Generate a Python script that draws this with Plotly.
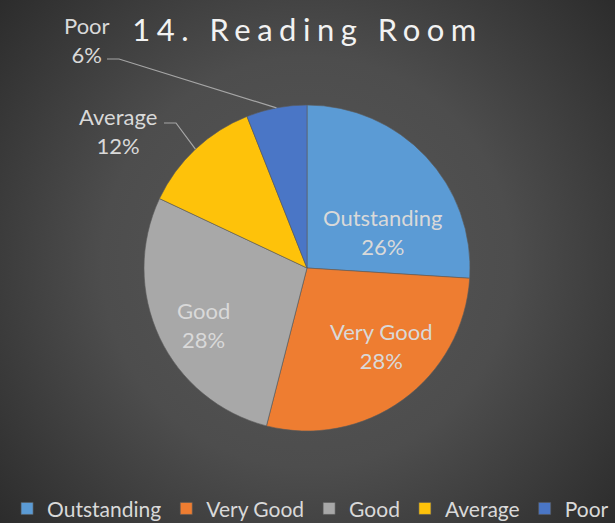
import base64
import math
import plotly.graph_objects as go

# ─── Data ─────────────────────────────────────────────────────────────────────

TITLE = "14. Reading Room"
LABELS = ["Outstanding", "Very Good", "Good", "Average", "Poor"]
VALUES = [26, 28, 28, 12, 6]
SLICE_COLORS = ["#5b9bd5", "#ee7d31", "#a8a8a8", "#fec20a", "#4a76c6"]
OUTSIDE = ["Average", "Poor"]

# ─── Layout constants (pixels) ───────────────────────────────────────────────

W, H = 615, 523
CX, CY, R = 307, 268, 163
TEXT = "#d9d9d9"
FONT = "Lato, 'Open Sans', sans-serif"

# centre of each data label block (Excel-style placement)
LABEL_POS = {
    "Outstanding": (383, 232),
    "Very Good": (381, 346),
    "Good": (203, 325),
    "Average": (118, 131),
    "Poor": (87, 40),
}
# elbow of leader line for the outside labels
ELBOW = {
    "Average": [(164, 123), (176, 123)],
    "Poor": [(107, 59), (119, 59)],
}


def px(x, y):
    return x / W, 1 - y / H


def background_svg():
    svg = (
        f'<svg xmlns="http://www.w3.org/2000/svg" width="{W}" height="{H}">'
        '<defs><radialGradient id="g" gradientUnits="userSpaceOnUse" '
        f'cx="{CX}" cy="262" r="410">'
        '<stop offset="0" stop-color="#575757"/>'
        '<stop offset="0.5" stop-color="#4d4d4d"/>'
        '<stop offset="0.75" stop-color="#3c3c3c"/>'
        '<stop offset="1" stop-color="#2b2b2b"/>'
        '</radialGradient></defs>'
        f'<rect width="{W}" height="{H}" fill="url(#g)"/></svg>'
    )
    return "data:image/svg+xml;base64," + base64.b64encode(svg.encode()).decode()


total = sum(VALUES)

x0, y0 = px(CX - R, CY + R)
x1, y1 = px(CX + R, CY - R)

fig = go.Figure(go.Pie(
    labels=LABELS,
    values=VALUES,
    sort=False,
    direction="clockwise",
    rotation=0,
    marker=dict(colors=SLICE_COLORS, line=dict(color="#5a5a5a", width=0.6)),
    textposition="none",
    domain=dict(x=[x0, x1], y=[y0, y1]),
    hoverinfo="label+percent",
))

# ── Data labels (+ leader lines for the small slices)
annotations = []
shapes = []
cum = 0
for lab, val in zip(LABELS, VALUES):
    mid = (cum + val / 2) / total * 2 * math.pi
    cum += val
    lx, ly = px(*LABEL_POS[lab])
    annotations.append(dict(
        x=lx, y=ly, xref="paper", yref="paper", showarrow=False,
        xanchor="center", yanchor="middle",
        text=f"{lab}<br>{val / total:.0%}", align="center",
        font=dict(family=FONT, size=22, color=TEXT),
    ))
    if lab in OUTSIDE:
        ex, ey = CX + R * math.sin(mid), CY - R * math.cos(mid)
        pts = ELBOW[lab] + [(ex, ey)]
        path = "M " + " L ".join(f"{px(a, b)[0]},{px(a, b)[1]}" for a, b in pts)
        shapes.append(dict(type="path", path=path, xref="paper", yref="paper",
                           line=dict(color="#a6a6a6", width=1.2), layer="above"))

fig.update_layout(
    width=W, height=H,
    margin=dict(l=0, r=0, t=0, b=0, autoexpand=False),
    paper_bgcolor="#3a3a3a",
    plot_bgcolor="rgba(0,0,0,0)",
    font=dict(family=FONT, color=TEXT),
    title=dict(
        text=f'<span style="letter-spacing:6.5px">{TITLE}</span>',
        x=0.5, xanchor="center", y=1 - 30 / H, yanchor="middle",
        font=dict(family=FONT, size=31, color="#f2f2f2"),
    ),
    legend=dict(
        orientation="h",
        x=0.505, xanchor="center", y=-0.012, yanchor="bottom",
        font=dict(family=FONT, size=21, color=TEXT),
        bgcolor="rgba(0,0,0,0)",
        itemclick=False,
    ),
    images=[dict(source=background_svg(), xref="paper", yref="paper",
                 x=0, y=1, sizex=1, sizey=1, sizing="stretch",
                 xanchor="left", yanchor="top", layer="below")],
    shapes=shapes,
    annotations=annotations,
)

fig.write_html("out.html", config={"displayModeBar": False},
               post_script="document.body.style.margin='0';")
